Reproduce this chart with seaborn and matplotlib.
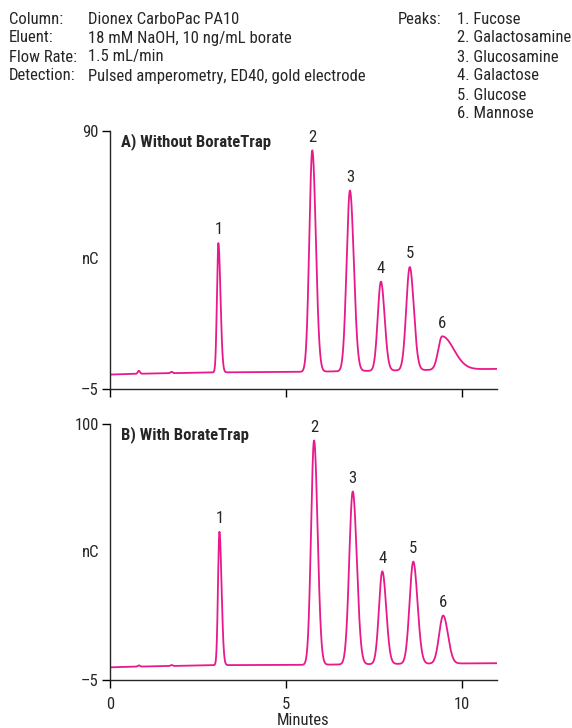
import numpy as np
import pandas as pd
import matplotlib
matplotlib.use('Agg')
import matplotlib.pyplot as plt
import seaborn as sns

sns.set_style('ticks')
plt.rcParams['font.family'] = ['Roboto Condensed', 'Liberation Sans', 'DejaVu Sans']

# peak table (minutes, nC above baseline, widths in min)
peak_labels = ['1', '2', '3', '4', '5', '6']
rt_a = [3.08, 5.75, 6.82, 7.70, 8.52, 9.44]
height_a = [47.6, 81.5, 66.5, 32.8, 38.0, 12.3]
sig_left_a = [0.040, 0.085, 0.095, 0.090, 0.100, 0.110]
sig_right_a = [0.060, 0.100, 0.110, 0.105, 0.115, 0.330]

rt_b = [3.11, 5.80, 6.90, 7.74, 8.62, 9.47]
height_b = [54.7, 92.0, 70.9, 38.0, 41.9, 19.7]
sig_left_b = [0.040, 0.085, 0.100, 0.095, 0.105, 0.115]
sig_right_b = [0.060, 0.100, 0.115, 0.110, 0.120, 0.135]

# baseline drift (minutes, nC)
base_t = [0.0, 0.8, 3.0, 5.5, 8.0, 11.0]
base_a = [0.3, 0.6, 1.1, 1.3, 1.8, 2.4]
base_b = [0.2, 0.5, 1.1, 1.2, 1.6, 1.9]

# small injection blips
blip_t = [0.82, 1.75]
blip_a = [1.1, 0.5]
blip_b = [0.5, 0.4]

minutes = np.linspace(0, 11, 3000)


def trace(rt, h, sl, sr, base, blips):
    y = np.interp(minutes, base_t, base)
    for t0, hh, a, b in zip(rt, h, sl, sr):
        s = np.where(minutes < t0, a, b)
        y = y + hh * np.exp(-0.5 * ((minutes - t0) / s) ** 2)
    for t0, hh in zip(blip_t, blips):
        y = y + hh * np.exp(-0.5 * ((minutes - t0) / 0.03) ** 2)
    return y


df_a = pd.DataFrame({'Minutes': minutes,
                     'nC': trace(rt_a, height_a, sig_left_a, sig_right_a, base_a, blip_a)})
df_b = pd.DataFrame({'Minutes': minutes,
                     'nC': trace(rt_b, height_b, sig_left_b, sig_right_b, base_b, blip_b)})

pink = '#E8198B'
fs = 12

fig = plt.figure(figsize=(5.72, 7.28), dpi=100)
ax_a = fig.add_axes([0.1923, 0.4657, 0.6766, 0.3544])
ax_b = fig.add_axes([0.1923, 0.0659, 0.6766, 0.3517])

panels = [
    (ax_a, df_a, rt_a, height_a, base_a, (-5, 90), 'A) Without BorateTrap'),
    (ax_b, df_b, rt_b, height_b, base_b, (-5, 100), 'B) With BorateTrap'),
]

for ax, d, rt, h, base, ylim, title in panels:
    sns.lineplot(data=d, x='Minutes', y='nC', ax=ax, color=pink, lw=1.3)
    ax.set_xlim(0, 11)
    ax.set_ylim(*ylim)
    ax.set_yticks(list(ylim))
    ax.set_yticklabels(['\u20135', str(ylim[1])], fontsize=fs)
    ax.set_xticks([0, 5, 10])
    ax.set_ylabel('nC', rotation=0, fontsize=fs, va='center')
    ax.yaxis.set_label_coords(-0.05, 0.5)
    ax.set_xlabel('')
    ax.tick_params(axis='y', length=6, width=1, pad=2, color='black')
    ax.tick_params(axis='x', length=6, width=1, pad=6, color='black')
    for sp in ['top', 'right']:
        ax.spines[sp].set_visible(False)
    for sp in ['left', 'bottom']:
        ax.spines[sp].set_linewidth(1)
    ax.text(0.32, ylim[1] - 0.04 * (ylim[1] - ylim[0]), title, fontsize=fs,
            fontweight='bold', va='center', ha='left')
    for lab, t0, hh in zip(peak_labels, rt, h):
        yb = np.interp(t0, base_t, base)
        ax.text(t0, yb + hh + 0.022 * (ylim[1] - ylim[0]), lab, fontsize=fs,
                ha='center', va='bottom')

ax_a.set_xticklabels([])
ax_b.set_xticklabels(['0', '5', '10'], fontsize=fs)
ax_b.set_xlabel('Minutes', fontsize=fs, labelpad=1)

# header block
keys = ['Column:', 'Eluent:', 'Flow Rate:', 'Detection:']
vals = ['Dionex CarboPac PA10', '18 mM NaOH, 10 ng/mL borate', '1.5 mL/min',
        'Pulsed amperometry, ED40, gold electrode']
peak_names = ['1. Fucose', '2. Galactosamine', '3. Glucosamine', '4. Galactose',
              '5. Glucose', '6. Mannose']

for i, (k, v) in enumerate(zip(keys, vals)):
    y = 1 - (19 + 19 * i) / 728
    fig.text(9 / 572, y, k, fontsize=fs, va='center')
    fig.text(88 / 572, y, v, fontsize=fs, va='center')

fig.text(398 / 572, 1 - 19 / 728, 'Peaks:', fontsize=fs, va='center')
for i, p in enumerate(peak_names):
    fig.text(457 / 572, 1 - (19 + 19 * i) / 728, p, fontsize=fs, va='center')

fig.savefig('out.png', dpi=100)
